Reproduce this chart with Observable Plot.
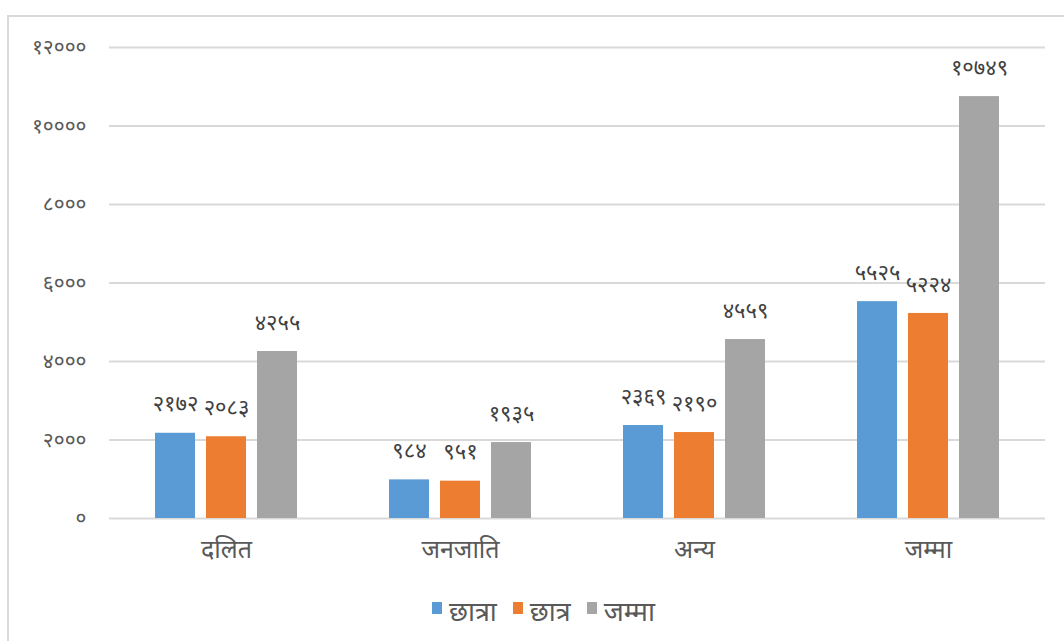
<!DOCTYPE html>
<html>
<head>
<meta charset="utf-8">
<script src="https://cdn.jsdelivr.net/npm/d3@7"></script>
<script src="https://cdn.jsdelivr.net/npm/@observablehq/plot@0.6"></script>
<style>
  html, body { margin: 0; padding: 0; background: #fff; width: 1064px; height: 641px; overflow: hidden; }
  body { position: relative; font-family: "Noto Sans", "DejaVu Sans", sans-serif; }
  #frame { position: absolute; left: 7px; top: 15px; width: 1100px; height: 700px; border: 2px solid #d9d9d9; box-sizing: border-box; }
  #chart { position: absolute; left: 0; top: 0; }
  #legend { position: absolute; top: 596px; left: 432px; display: flex; align-items: center; font-size: 27px; line-height: 30px; color: #595959; }
  #legend .item { display: flex; align-items: center; margin-right: 16px; }
  #legend .sw { width: 10px; height: 12px; margin-right: 7px; margin-top: -6px; }
</style>
</head>
<body>
<div id="frame"></div>
<div id="chart"></div>
<div id="legend"></div>
<script>
const categories = ["दलित", "जनजाति", "अन्य", "जम्मा"];
const seriesNames = ["छात्रा", "छात्र", "जम्मा"];
const girls = [2172, 984, 2369, 5525];
const boys = [2083, 951, 2190, 5224];
const totals = [4255, 1935, 4559, 10749];
const yTicks = [0, 2000, 4000, 6000, 8000, 10000, 12000];
const colors = ["#5B9BD5", "#ED7D31", "#A5A5A5"];

const devDigits = "०१२३४५६७८९";
const toDev = n => String(n).replace(/[0-9]/g, d => devDigits[+d]);

const seriesValues = [girls, boys, totals];
const data = [];
categories.forEach((c, i) => {
  seriesNames.forEach((s, j) => {
    data.push({category: c, series: s, key: j, value: seriesValues[j][i]});
  });
});

const plot = Plot.plot({
  width: 1064,
  height: 580,
  marginTop: 47,
  marginBottom: 62,
  marginLeft: 108,
  marginRight: 18,
  style: { fontFamily: "'Noto Sans', 'DejaVu Sans', sans-serif", background: "transparent" },
  fx: { domain: categories, padding: 0, label: null, axis: null },
  x: { domain: [0, 1, 2], paddingInner: 0.21, paddingOuter: 0.86, axis: null },
  y: { domain: [0, 12000], ticks: yTicks, label: null, grid: false, axis: null },
  color: { domain: [0, 1, 2], range: colors },
  marks: [
    Plot.gridY(yTicks, { stroke: "#d9d9d9", strokeWidth: 2, strokeOpacity: 1 }),
    Plot.axisY(yTicks, { tickSize: 0, tickPadding: 23, label: null, tickFormat: toDev, fontSize: 21, fill: "#595959", style: "letter-spacing:2px" }),
    Plot.barY(data, { fx: "category", x: "key", y: "value", fill: d => d.key, inset: 0 }),
    Plot.text(data, { fx: "category", x: "key", y: "value", text: d => toDev(d.value), dy: -29, fontSize: 22, fill: "#404040", lineAnchor: "middle", style: "letter-spacing:1px" }),
    Plot.axisFx({ anchor: "bottom", tickSize: 0, tickPadding: 22, label: null, fontSize: 25, fill: "#595959" })
  ]
});
document.getElementById("chart").appendChild(plot);

const legend = document.getElementById("legend");
seriesNames.forEach((s, j) => {
  const item = document.createElement("div");
  item.className = "item";
  const sw = document.createElement("div");
  sw.className = "sw";
  sw.style.background = colors[j];
  const t = document.createElement("span");
  t.textContent = s;
  item.appendChild(sw);
  item.appendChild(t);
  legend.appendChild(item);
});
</script>
</body>
</html>
